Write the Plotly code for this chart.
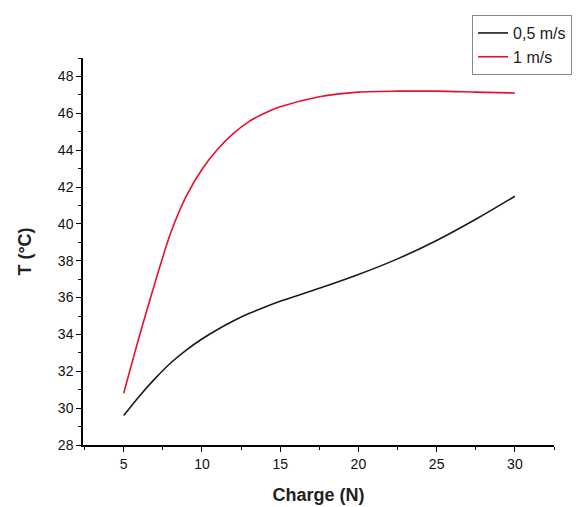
import plotly.graph_objects as go

charge = [5, 6, 7, 8, 9, 10, 11, 12, 13, 14, 15, 17.5, 20, 22.5, 25, 27.5, 30]
t_05 = [29.6, 30.65, 31.6, 32.45, 33.15, 33.75, 34.27, 34.73, 35.13, 35.48, 35.8, 36.5, 37.25, 38.1, 39.1, 40.25, 41.5]
t_1 = [30.8, 33.9, 36.8, 39.5, 41.5, 42.95, 44.05, 44.9, 45.55, 46.0, 46.35, 46.9, 47.15, 47.2, 47.2, 47.15, 47.1]

fig = go.Figure()
fig.add_trace(go.Scatter(x=charge, y=t_05, mode="lines", name="0,5 m/s",
                         line=dict(color="#1a1a1a", width=1.6, shape="spline", smoothing=0.8)))
fig.add_trace(go.Scatter(x=charge, y=t_1, mode="lines", name="1 m/s",
                         line=dict(color="#e8102a", width=1.6, shape="spline", smoothing=0.8)))

axis_common = dict(showline=True, linecolor="black", linewidth=1.5, ticks="outside",
                   ticklen=5, tickwidth=1.3, tickcolor="black", showgrid=False, zeroline=False,
                   mirror=False, automargin=False,
                   tickfont=dict(family="Liberation Sans, Arial", size=14, color="#111"))

fig.update_layout(
    width=579, height=499,
    margin=dict(l=75, r=33, t=50, b=62, autoexpand=False),
    paper_bgcolor="white", plot_bgcolor="white",
    font=dict(family="Liberation Sans, Arial", color="#222"),
    xaxis=dict(range=[2.4, 32.5], tickmode="linear", tick0=5, dtick=5,
               minor=dict(tick0=2.5, dtick=2.5, ticks="outside", ticklen=3, tickcolor="black"),
               title=dict(text="<b>Charge (N)</b>", font=dict(size=18), standoff=18),
               **axis_common),
    yaxis=dict(range=[28, 49], tickmode="linear", tick0=28, dtick=2,
               minor=dict(tick0=28, dtick=1, ticks="outside", ticklen=3, tickcolor="black"),
               title=dict(text="<b>T (°C)</b>", font=dict(size=18), standoff=22),
               **axis_common),
    legend=dict(x=0.826, y=1.111, xanchor="left", yanchor="top",
                bordercolor="#888", borderwidth=1, bgcolor="white",
                font=dict(size=16, family="Liberation Sans, Arial"),
                tracegroupgap=0, itemwidth=30),
    showlegend=True,
)

fig.write_html("out.html")
